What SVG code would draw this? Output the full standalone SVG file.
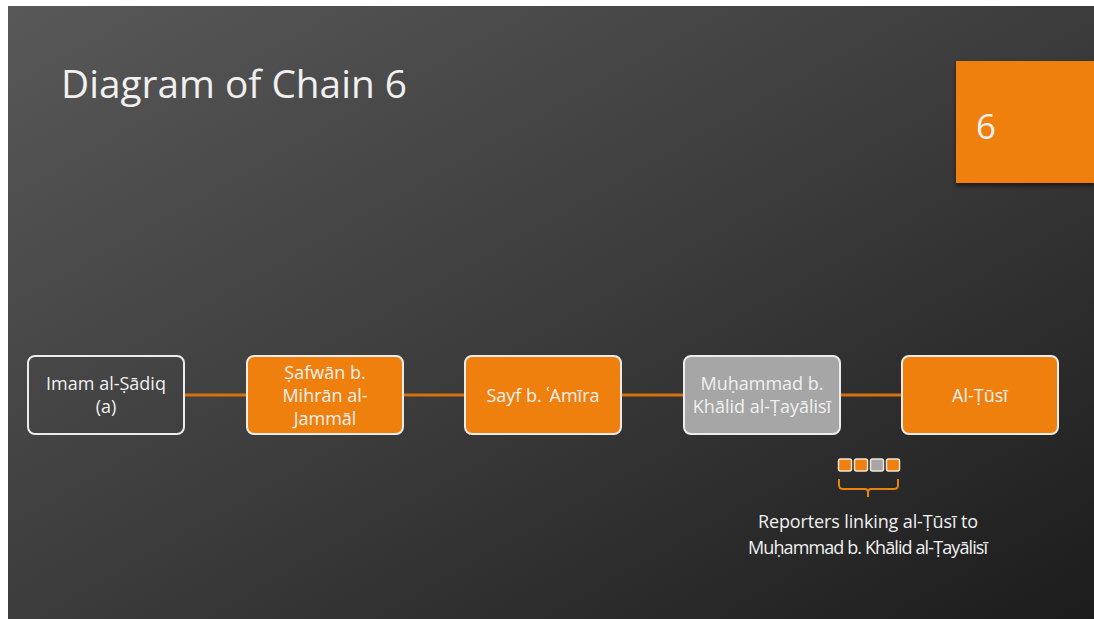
<svg xmlns="http://www.w3.org/2000/svg" width="1094" height="619" viewBox="0 0 1094 619">
<defs>
<linearGradient id="bg" x1="0" y1="0" x2="1" y2="1">
<stop offset="0" stop-color="#585858"/>
<stop offset="0.5" stop-color="#3c3c3c"/>
<stop offset="1" stop-color="#1c1c1c"/>
</linearGradient>
<filter id="sh" x="-10%" y="-10%" width="130%" height="130%">
<feDropShadow dx="0" dy="3" stdDeviation="2" flood-color="#000" flood-opacity="0.5"/>
</filter>
<style>
text{font-family:"Open Sans","Noto Sans",sans-serif;fill:#f0f0f0;}
.node{stroke:#ececec;stroke-width:2;}
.orange{fill:#EF800E;}
.gray{fill:#A6A6A6;}
.dark{fill:none;}
.lbl{font-size:18px;text-anchor:middle;}
.conn{stroke:#D8700E;stroke-width:3;}
.sq{stroke:#f0e6d8;stroke-width:1.5;}
</style>
</defs>
<rect width="1094" height="619" fill="#ffffff"/>
<rect x="8" y="6" width="1086" height="613" fill="url(#bg)"/>
<text x="61" y="98" font-size="39" textLength="346" lengthAdjust="spacingAndGlyphs">Diagram of Chain 6</text>
<g id="badge">
<rect x="956" y="61" width="138" height="122" fill="#F0800E" filter="url(#sh)"/>
<text x="976" y="139" font-size="35">6</text>
</g>
<g id="connectors">
<line class="conn" x1="184" y1="395" x2="247" y2="395"/>
<line class="conn" x1="403" y1="395" x2="465" y2="395"/>
<line class="conn" x1="621" y1="395" x2="684" y2="395"/>
<line class="conn" x1="840" y1="395" x2="902" y2="395"/>
</g>
<g id="n1">
<rect class="node dark" x="28" y="356" width="156" height="78" rx="7"/>
<text class="lbl" x="106" y="390">Imam al-Ṣādiq</text>
<text class="lbl" x="106" y="413">(a)</text>
</g>
<g id="n2">
<rect class="node orange" x="247" y="356" width="156" height="78" rx="7"/>
<text class="lbl" x="325" y="379">Ṣafwān b.</text>
<text class="lbl" x="325" y="402">Mihrān al-</text>
<text class="lbl" x="325" y="425">Jammāl</text>
</g>
<g id="n3">
<rect class="node orange" x="465" y="356" width="156" height="78" rx="7"/>
<text class="lbl" x="543" y="402">Sayf b. ʿAmīra</text>
</g>
<g id="n4">
<rect class="node gray" x="684" y="356" width="156" height="78" rx="7"/>
<text class="lbl" x="762" y="390">Muḥammad b.</text>
<text class="lbl" x="762" y="413">Khālid al-Ṭayālisī</text>
</g>
<g id="n5">
<rect class="node orange" x="902" y="356" width="156" height="78" rx="7"/>
<text class="lbl" x="980" y="402">Al-Ṭūsī</text>
</g>
<g id="legend">
<rect class="sq orange" x="838.5" y="459" width="13" height="12" rx="2"/>
<rect class="sq orange" x="854.5" y="459" width="13" height="12" rx="2"/>
<rect class="sq gray" x="870.5" y="459" width="13" height="12" rx="2"/>
<rect class="sq orange" x="886.5" y="459" width="13" height="12" rx="2"/>
<path d="M839 479 V485 Q839 489 843 489 H865 Q868 489 868 493 V497 M868 493 Q868 489 871 489 H894 Q898 489 898 485 V479" fill="none" stroke="#E8820F" stroke-width="2"/>
<text class="lbl" x="868" y="528" textLength="220">Reporters linking al-Ṭūsī to</text>
<text class="lbl" x="868" y="554" textLength="240">Muḥammad b. Khālid al-Ṭayālisī</text>
</g>
</svg>
